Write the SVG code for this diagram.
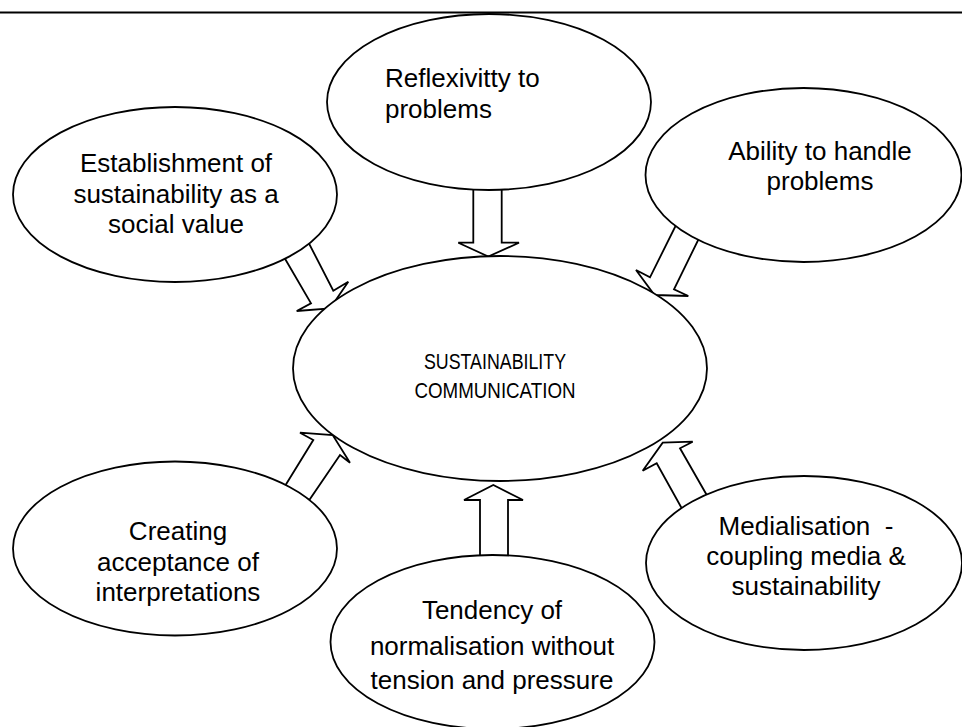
<svg xmlns="http://www.w3.org/2000/svg" width="962" height="727" viewBox="0 0 962 727">
<style>
.n{fill:#fff;stroke:#000;stroke-width:1.8}
.a{fill:#fff;stroke:#000;stroke-width:1.8;stroke-linejoin:miter}
text{font-family:"Liberation Sans",Arial,sans-serif;font-size:26px;fill:#000}
.c{text-anchor:middle}
.big{font-size:22px}
</style>
<rect x="0" y="0" width="962" height="727" fill="#fff"/>
<line x1="0" y1="12.5" x2="962" y2="12.5" stroke="#000" stroke-width="2.2"/>
<g id="connectors">
<polygon class="a" points="284,257 311,303.3 296.7,311 330,308.5 348.3,281.7 333.3,290.7 299,224"/>
<polygon class="a" points="473.3,170 473.3,242.7 458.3,242.7 488.3,256.5 519,242.7 501.7,242.7 501.7,170"/>
<polygon class="a" points="684,209 650,277.3 636,270 654.5,295 688.3,296 674,289.3 707,222"/>
<polygon class="a" points="285,486 313.3,440 300,432.7 332.7,435 350,462.7 340,455 309.3,500"/>
<polygon class="a" points="480,575 480,500 464,500 493.3,485 523,500 508,500 508,575"/>
<polygon class="a" points="682.7,510 656.7,463.3 642.7,470.7 662.7,442.7 692.7,441.7 680,448.3 707.3,496"/>
</g>
<g id="reflexivity">
<ellipse class="n" cx="489" cy="102" rx="162" ry="88"/>
<text x="385" y="87">Reflexivitty to</text>
<text x="385" y="118">problems</text>
</g>
<g id="establishment">
<ellipse class="n" cx="175" cy="194.5" rx="162" ry="87.5"/>
<text class="c" x="176" y="172">Establishment of</text>
<text class="c" x="176" y="203">sustainability as a</text>
<text class="c" x="176" y="233">social value</text>
</g>
<g id="ability">
<ellipse class="n" cx="803.5" cy="175" rx="158" ry="87"/>
<text class="c" x="820" y="160">Ability to handle</text>
<text class="c" x="820" y="190">problems</text>
</g>
<g id="center">
<ellipse class="n" cx="500" cy="368.5" rx="207" ry="112.5"/>
<text class="c big" x="495" y="369" textLength="142" lengthAdjust="spacingAndGlyphs">SUSTAINABILITY</text>
<text class="c big" x="495" y="398" textLength="161" lengthAdjust="spacingAndGlyphs">COMMUNICATION</text>
</g>
<g id="creating">
<ellipse class="n" cx="175" cy="548.5" rx="162" ry="87"/>
<text class="c" x="178" y="540">Creating</text>
<text class="c" x="178" y="571">acceptance of</text>
<text class="c" x="178" y="601">interpretations</text>
</g>
<g id="tendency">
<ellipse class="n" cx="492.5" cy="642" rx="162" ry="87"/>
<text class="c" x="492" y="619">Tendency of</text>
<text class="c" x="492" y="655">normalisation without</text>
<text class="c" x="492" y="689">tension and pressure</text>
</g>
<g id="medialisation">
<ellipse class="n" cx="804" cy="563" rx="158" ry="87"/>
<text class="c" x="806" y="535" xml:space="preserve">Medialisation  -</text>
<text class="c" x="806" y="565">coupling media &amp;</text>
<text class="c" x="806" y="595">sustainability</text>
</g>
</svg>
